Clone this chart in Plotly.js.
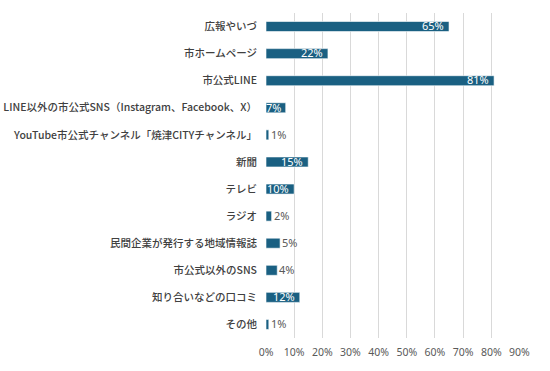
<!DOCTYPE html>
<html>
<head>
<meta charset="utf-8">
<script src="https://cdn.plot.ly/plotly-3.0.1.min.js"></script>
<style>html,body{margin:0;padding:0;background:#fff;}#chart{width:550px;height:371px;}</style>
</head>
<body>
<div id="chart"></div>
<script>
const categories = [
  "広報やいづ",
  "市ホームページ",
  "市公式LINE",
  "LINE以外の市公式SNS（Instagram、Facebook、X）",
  "YouTube市公式チャンネル「焼津CITYチャンネル」",
  "新聞",
  "テレビ",
  "ラジオ",
  "民間企業が発行する地域情報誌",
  "市公式以外のSNS",
  "知り合いなどの口コミ",
  "その他"
];
const values = [65, 22, 81, 7, 1, 15, 10, 2, 5, 4, 12, 1];
const tickValues = [0, 10, 20, 30, 40, 50, 60, 70, 80, 90];
const tickLabels = tickValues.map(v => v + "%");

const labels = values.map(v => v + "%");
const cjkFont = '"Noto Sans CJK JP", "Noto Sans", sans-serif';
const numFont = '"Noto Sans", "DejaVu Sans", sans-serif';

const trace = {
  type: "bar",
  orientation: "h",
  y: categories,
  x: values,
  width: 0.37,
  marker: {color: "#1a6082", line: {color: "#ffffff", width: 0.6}},
  hoverinfo: "none"
};

const annotations = values.map((v, i) => {
  const inside = v >= 7;
  return {
    x: v, y: categories[i], xref: "x", yref: "y",
    text: labels[i], showarrow: false,
    xanchor: inside ? "right" : "left",
    yanchor: "middle",
    xshift: inside ? -3 : 0,
    yshift: 0.75,
    font: {family: numFont, size: 11, color: inside ? "#ffffff" : "#595959"}
  };
});

const layout = {
  width: 550, height: 371,
  margin: {l: 266, r: 30, t: 13, b: 33},
  paper_bgcolor: "#ffffff", plot_bgcolor: "#ffffff",
  showlegend: false,
  font: {family: cjkFont, color: "#595959", size: 10},
  annotations: annotations,
  xaxis: {
    range: [0, 90.2],
    tickmode: "array",
    tickvals: tickValues,
    ticktext: tickLabels,
    showgrid: true, gridcolor: "#d9d9d9", gridwidth: 1,
    zeroline: false, showline: false, ticks: "",
    ticklabelstandoff: 6,
    tickfont: {size: 10.5, color: "#595959", family: numFont},
    fixedrange: true
  },
  yaxis: {
    autorange: "reversed",
    type: "category",
    showgrid: false, zeroline: false, showline: false, ticks: "",
    ticklabelstandoff: 8,
    tickfont: {size: 10.5, color: "#404040", family: cjkFont, weight: 500},
    fixedrange: true
  }
};

Plotly.newPlot("chart", [trace], layout, {displayModeBar: false, staticPlot: true});
</script>
</body>
</html>
